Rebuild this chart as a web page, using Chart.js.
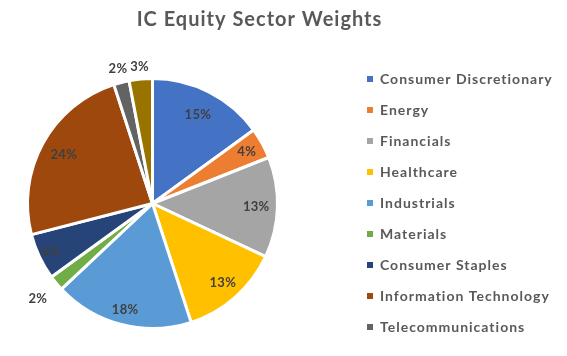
<!DOCTYPE html>
<html>
<head>
<meta charset="utf-8">
<script src="https://cdn.jsdelivr.net/npm/chart.js@4"></script>
<style>
  html, body { margin: 0; padding: 0; background: #ffffff; }
  #wrap { width: 567px; height: 356px; position: relative; }
</style>
</head>
<body>
<div id="wrap"><canvas id="c"></canvas></div>
<script>
const chartTitle = 'IC Equity Sector Weights';
const sectors = ['Consumer Discretionary', 'Energy', 'Financials', 'Healthcare', 'Industrials',
                 'Materials', 'Consumer Staples', 'Information Technology', 'Telecommunications', 'Utilities'];
const weights = [15, 4, 13, 13, 18, 2, 6, 24, 2, 3];
const sliceColors = ['#4472C4', '#ED7D31', '#A5A5A5', '#FFC000', '#5B9BD5',
                     '#70AD47', '#264478', '#9E480E', '#636363', '#997300'];
const legendCount = 9;
const labelRadius = [0.80, 0.86, 0.83, 0.85, 0.88, 1.19, 0.9, 0.81, 1.11, 1.10];

const FONT = 'Lato, "Open Sans", sans-serif';

const spacing = {
  id: 'spacing',
  beforeUpdate(chart) { chart.ctx.letterSpacing = '1px'; },
  beforeDraw(chart) { chart.ctx.letterSpacing = '1px'; }
};

const pctLabels = {
  id: 'pctLabels',
  afterDatasetsDraw(chart) {
    const ctx = chart.ctx;
    const meta = chart.getDatasetMeta(0);
    ctx.save();
    ctx.letterSpacing = '0.3px';
    ctx.font = 'bold 13px ' + FONT;
    ctx.fillStyle = '#404040';
    ctx.textAlign = 'center';
    ctx.textBaseline = 'middle';
    meta.data.forEach((arc, i) => {
      const p = arc.getProps(['x', 'y', 'startAngle', 'endAngle', 'outerRadius'], true);
      const mid = (p.startAngle + p.endAngle) / 2;
      const r = p.outerRadius * labelRadius[i];
      ctx.fillText(weights[i] + '%', p.x + Math.cos(mid) * r, p.y + Math.sin(mid) * r);
    });
    ctx.restore();
  }
};

const arrange = {
  id: 'arrange',
  afterLayout(chart) {
    const a = chart.chartArea;
    const side = a.bottom - a.top;
    a.right = a.left + side;
    a.width = side;
    const L = chart.legend;
    const w = L.right - L.left;
    L.left = Math.round(a.right + 71);
    L.right = L.left + w;
    const h = L.bottom - L.top;
    L.top = Math.round(a.top - 22);
    L.bottom = L.top + h;
    const t = chart.titleBlock;
    if (t) { t.right = t.right - 64; }
  }
};

new Chart(document.getElementById('c'), {
  type: 'pie',
  data: {
    labels: sectors,
    datasets: [{
      data: weights,
      backgroundColor: sliceColors,
      borderColor: '#ffffff',
      borderWidth: 3
    }]
  },
  options: {
    responsive: true,
    maintainAspectRatio: false,
    animation: false,
    layout: { padding: { left: 26, right: 10, top: 0, bottom: 26 } },
    plugins: {
      title: {
        display: true,
        text: chartTitle,
        color: '#595959',
        font: { family: FONT, size: 20, weight: 'bold' },
        padding: { top: 8, bottom: 45 }
      },
      legend: {
        display: true,
        position: 'right',
        align: 'start',
        labels: {
          color: '#595959',
          font: { family: FONT, size: 14, weight: 'bold' },
          boxWidth: 6,
          boxHeight: 6,
          padding: 17,
          generateLabels: (chart) =>
            Chart.overrides.pie.plugins.legend.labels.generateLabels(chart)
              .filter((item) => item.index < legendCount)
              .map((item) => Object.assign(item, { lineWidth: 0, strokeStyle: item.fillStyle }))
        }
      },
      tooltip: { enabled: false }
    }
  },
  plugins: [spacing, pctLabels, arrange]
});
</script>
</body>
</html>
